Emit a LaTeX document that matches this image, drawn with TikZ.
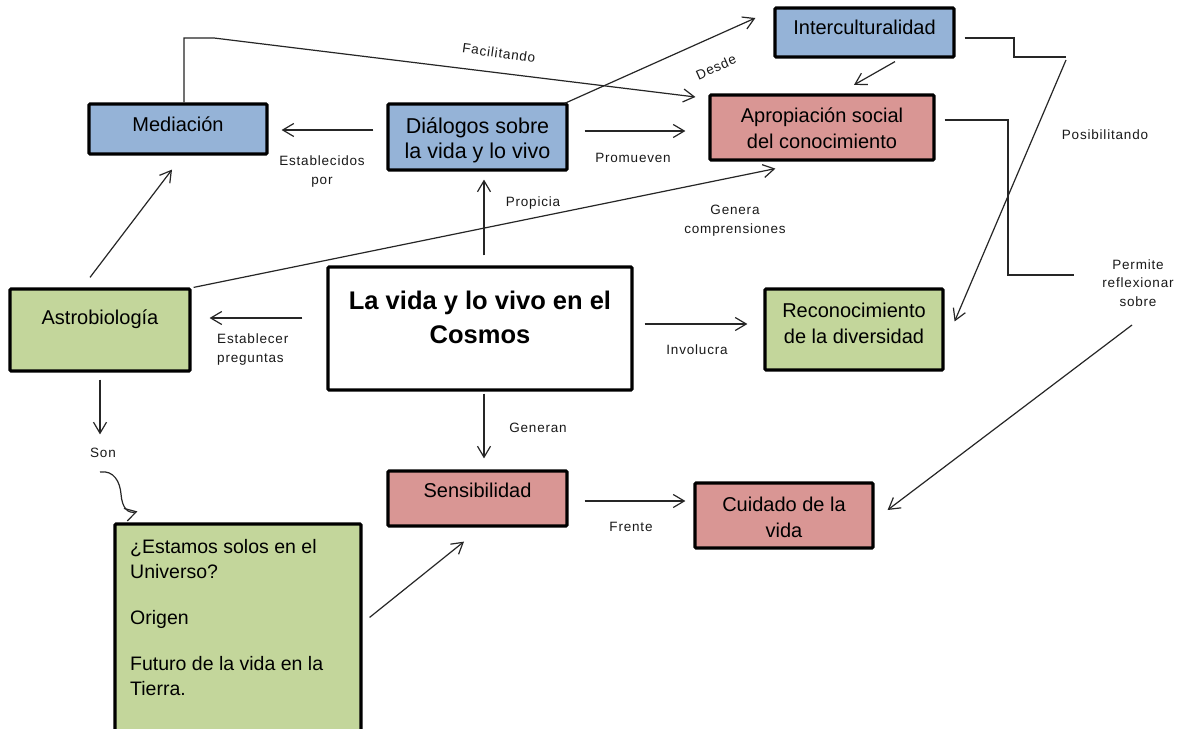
\documentclass[tikz,border=0pt]{standalone}
\usepackage{fontspec}
\setmainfont{Liberation Sans}
\newfontfamily\lblfont{Liberation Sans}[LetterSpace=6]
\usetikzlibrary{arrows.meta,calc}
\definecolor{cblue}{HTML}{95B3D7}
\definecolor{cred}{HTML}{D99694}
\definecolor{cgreen}{HTML}{C3D69B}
\definecolor{lncol}{HTML}{262626}
\begin{document}
\begin{tikzpicture}[x=1pt,y=-1pt,
  box/.style={draw=black,line width=3.2pt,rounded corners=1.2pt,inner sep=0pt},
  btxt/.style={font=\fontsize{20}{25.5}\selectfont,align=center,inner sep=0pt,anchor=base},
  ptxt/.style={font=\fontsize{19.5}{25}\selectfont,align=left,inner sep=0pt,anchor=base west},
  lbl/.style={font=\lblfont\fontsize{13.5}{18.5}\selectfont,align=center,inner sep=0pt,anchor=base,text=black!90},
  arr/.style={line width=1.2pt,draw=lncol,-{Straight Barb[length=11pt,width=13pt,line width=1.2pt]}},
  ln/.style={line width=1.2pt,draw=lncol}]
\useasboundingbox (0,0) rectangle (1183,728);
\clip (0,0) rectangle (1183,728);
\fill[white] (0,0) rectangle (1183,728);

% boxes (text nodes: anchor=base is the baseline of the last line)
\node[box,fill=cblue,minimum width=178pt,minimum height=50pt] (med) at (178,129) {};
\node[btxt] (medt) at (178,131) {Mediación};
\node[box,fill=cblue,minimum width=179pt,minimum height=66pt] (dial) at (477.5,137) {};
\node[btxt,font=\fontsize{21.5}{25}\selectfont] (dialt) at (477.5,158) {Diálogos sobre\\la vida y lo vivo};
\node[box,fill=cblue,minimum width=179pt,minimum height=49pt] (inter) at (864.5,32.5) {};
\node[btxt] (intert) at (864.5,34) {Interculturalidad};
\node[box,fill=cred,minimum width=224pt,minimum height=65pt] (apro) at (822,127.5) {};
\node[btxt] (aprot) at (822,148) {Apropiación social\\del conocimiento};
\node[box,fill=cgreen,minimum width=180pt,minimum height=82pt] (astro) at (100,330) {};
\node[btxt] (astrot) at (100,324) {Astrobiología};
\node[box,fill=white,minimum width=304pt,minimum height=123pt] (cosmos) at (480,328.5) {};
\node[btxt,font=\bfseries\fontsize{25.5}{34}\selectfont] (cosmost) at (480,343) {La vida y lo vivo en el\\Cosmos};
\node[box,fill=cgreen,minimum width=178pt,minimum height=81pt] (recon) at (854,329.5) {};
\node[btxt] (recont) at (854,343) {Reconocimiento\\de la diversidad};
\node[box,fill=cred,minimum width=179pt,minimum height=55pt] (sens) at (477.5,498.5) {};
\node[btxt] (senst) at (477.5,497) {Sensibilidad};
\node[box,fill=cred,minimum width=178pt,minimum height=65pt] (cuid) at (784,515.5) {};
\node[btxt] (cuidt) at (784,537) {Cuidado de la\\vida};
\node[box,fill=cgreen,minimum width=246pt,minimum height=236pt] (preg) at (238,642) {};
\node[ptxt] (preg1) at (130,578) {¿Estamos solos en el\\Universo?};
\node[ptxt] (preg2) at (130,624) {Origen};
\node[ptxt] (preg3) at (130,695) {Futuro de la vida en la\\Tierra.};

% labels
\node[lbl] (l1) at (322,184) {Establecidos\\por};
\node[lbl,anchor=center,rotate=-8] (l2) at (499,53) {Facilitando};
\node[lbl,anchor=center,rotate=24] (l3) at (716,67) {Desde};
\node[lbl] (l4) at (633,162) {Promueven};
\node[lbl] (l5) at (533,206) {Propicia};
\node[lbl] (l6) at (735,233) {Genera\\comprensiones};
\node[lbl] (l7) at (1105,139) {Posibilitando};
\node[lbl] (perm) at (1138,306) {Permite\\reflexionar\\sobre};
\node[lbl,align=left,anchor=base west] (l9) at (217,362) {Establecer\\preguntas};
\node[lbl] (l10) at (697,354) {Involucra};
\node[lbl] (l11) at (538,432) {Generan};
\node[lbl] (son) at (103,457) {Son};
\node[lbl] (l13) at (631,531) {Frente};

% free-end coordinates
\coordinate (facA) at (184,38);
\coordinate (facB) at (214,38);
\coordinate (posA) at (1066,57);
\coordinate (permA) at (1074,275);
\coordinate (permB) at (1132,325);
\coordinate (curveS) at (100,472);

% connectors
\draw[arr] ($(dial.west)+(-13,-7)$) -- ($(med.east)+(13,1)$);
\draw[arr] ($(med.north)+(6,0)$) -- (facA) -- (facB) -- ($(apro.west)+(-13,-30.5)$);
\draw[arr] ($(dial.north east)+(-4,1)$) -- ($(inter.west)+(-18,-14.5)$);
\draw[arr] ($(dial.east)+(16,-6)$) -- ($(apro.west)+(-23,3.5)$);
\draw[arr] ($(astro.north)+(-10,-10)$) -- ($(med.south)+(-6,14)$);
\draw[arr] ($(astro.north east)+(2,0)$) -- ($(apro.south west)+(67,7)$);
\draw[arr] ($(cosmos.north)+(4,-10)$) -- ($(dial.south)+(6.5,8)$);
\draw[arr] ($(cosmos.west)+(-24,-10.5)$) -- ($(astro.east)+(18,-12)$);
\draw[arr] ($(cosmos.east)+(11,-4.5)$) -- ($(recon.west)+(-16,-5.5)$);
\draw[arr] ($(cosmos.south)+(4,2)$) -- ($(sens.north)+(6.5,-11)$);
\draw[arr] ($(astro.south)+(0,7)$) -- ($(son.north)+(-3,-13)$);
\draw[arr] (curveS) .. controls (114,470) and (120,482) .. (121,494)
  .. controls (122,508) and (128,514) .. ($(preg.north west)+(24,-11)$);
\draw[arr] ($(preg.north east)+(7,95)$) -- ($(sens.south)+(-13.5,14)$);
\draw[arr] ($(sens.east)+(16,2.5)$) -- ($(cuid.west)+(-8,-14.5)$);
\draw[arr] ($(inter.south)+(30.5,3)$) -- ($(apro.north)+(32,-8.5)$);
\draw[ln] ($(inter.east)+(9,5.5)$) -- (1014,38) -- (1014,57) -- (posA);
\draw[arr] ($(posA)+(0,3)$) -- ($(recon.north east)+(10,34)$);
\draw[ln] ($(apro.east)+(9,-7.5)$) -- (1008,120) -- (1008,275) -- (permA);
\draw[arr] (permB) -- ($(cuid.east)+(13,-5.5)$);
\end{tikzpicture}
\end{document}
